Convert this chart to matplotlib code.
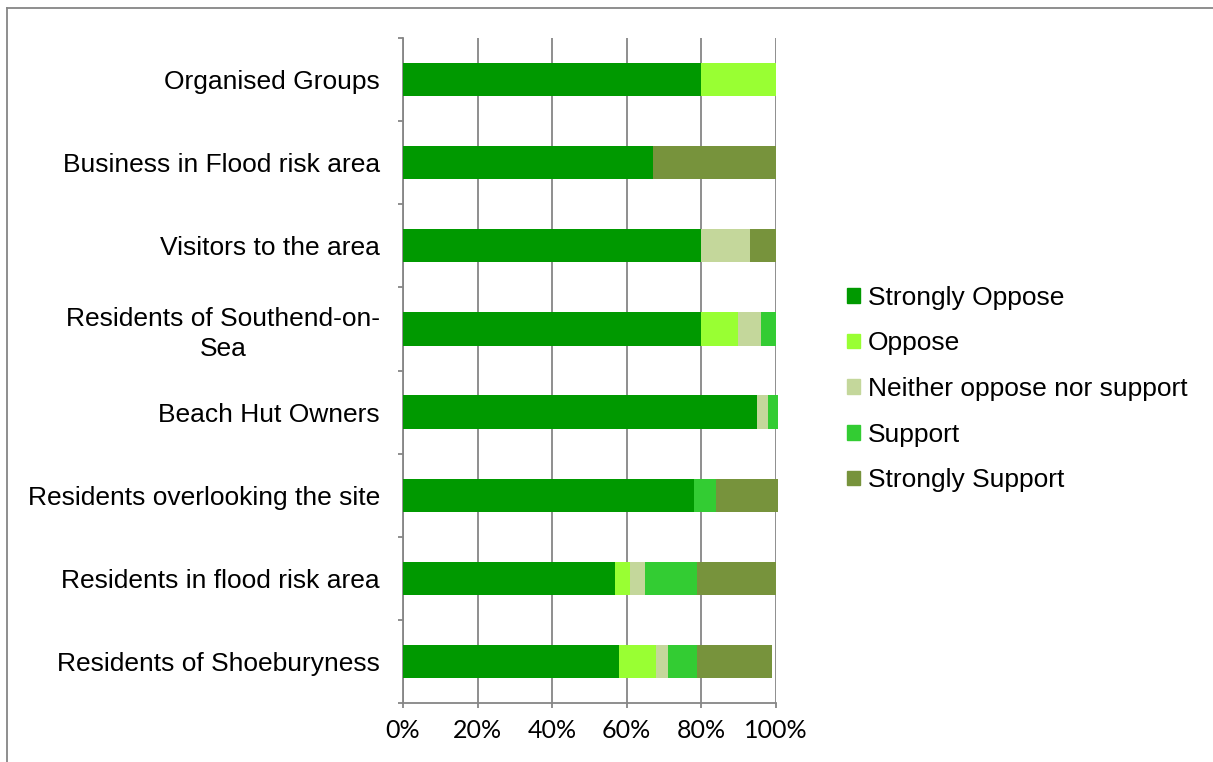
import matplotlib
matplotlib.use("Agg")
import matplotlib.pyplot as plt
import matplotlib.patches as mpatches
import matplotlib.lines as mlines
import numpy as np

categories = ["Organised Groups", "Business in Flood risk area", "Visitors to the area",
              "Residents of Southend-on-\nSea", "Beach Hut Owners",
              "Residents overlooking the site", "Residents in flood risk area",
              "Residents of Shoeburyness"]
series_names = ["Strongly Oppose", "Oppose", "Neither oppose nor support", "Support", "Strongly Support"]

strongly_oppose = [80, 67, 80, 80, 95, 78, 57, 58]
oppose = [20, 0, 0, 10, 0, 0, 4, 10]
neither = [0, 0, 13, 6, 3, 0, 4, 3]
support = [0, 0, 0, 4, 2.6, 6, 14, 8]
strongly_support = [0, 33, 7, 0, 0, 16.6, 21, 20]

colors = ["#009900", "#99FF33", "#C4D79B", "#33CC33", "#77933C"]
x_ticks = [0, 20, 40, 60, 80, 100]

plt.rcParams['font.family'] = ['Liberation Sans', 'DejaVu Sans']

fig = plt.figure(figsize=(12.13, 7.62), dpi=100)
ax = fig.add_axes([403 / 1213, 59 / 762, 372.6 / 1213, 665 / 762])

# stacked bars
y = np.arange(len(categories))
left = np.zeros(len(categories))
handles = []
for name, vals, col in zip(series_names, [strongly_oppose, oppose, neither, support, strongly_support], colors):
    bars = ax.barh(y, vals, left=left, height=0.4, color=col, edgecolor="none", zorder=3)
    for b in bars:
        b.set_clip_on(False)
    left += np.array(vals)
    handles.append(mpatches.Patch(color=col, label=name))

ax.set_xlim(0, 100)
ax.set_ylim(len(categories) - 0.5, -0.5)

# axes styling
grey = "#868686"
for s in ["top", "right"]:
    ax.spines[s].set_visible(False)
for s in ["left", "bottom"]:
    ax.spines[s].set_color(grey)
    ax.spines[s].set_linewidth(1.3)

ax.set_xticks(x_ticks)
ax.set_xticklabels([f"{t}%" for t in x_ticks], family=["Lato", "DejaVu Sans"], fontsize=18)
ax.tick_params(axis="x", direction="out", length=3.6, width=1.3, color=grey, pad=8)
ax.xaxis.grid(True, color=grey, linewidth=1.3, zorder=0)

ax.set_yticks(y)
ax.set_yticklabels(categories, fontsize=19, multialignment="center", linespacing=1.28)
ax.tick_params(axis="y", which="major", length=0, pad=16.5)
ax.set_yticks(np.arange(-0.5, len(categories), 1), minor=True)
ax.tick_params(axis="y", which="minor", direction="out", length=3.6, width=1.3, color=grey)

fig.legend(handles=handles, loc="center left", bbox_to_anchor=(847 / 1213, 1 - 389 / 762),
           frameon=False, fontsize=19, handlelength=0.48, handleheight=0.48,
           handletextpad=0.3, labelspacing=0.82, borderpad=0, borderaxespad=0)

# outer chart border (partly cut off)
fig.add_artist(mlines.Line2D([7 / 1213, 7 / 1213], [0, 1 - 8 / 762], color=grey, lw=1.3,
                             transform=fig.transFigure))
fig.add_artist(mlines.Line2D([7 / 1213, 1], [1 - 8 / 762, 1 - 8 / 762], color=grey, lw=1.3,
                             transform=fig.transFigure))

fig.savefig("out.png", dpi=100)
